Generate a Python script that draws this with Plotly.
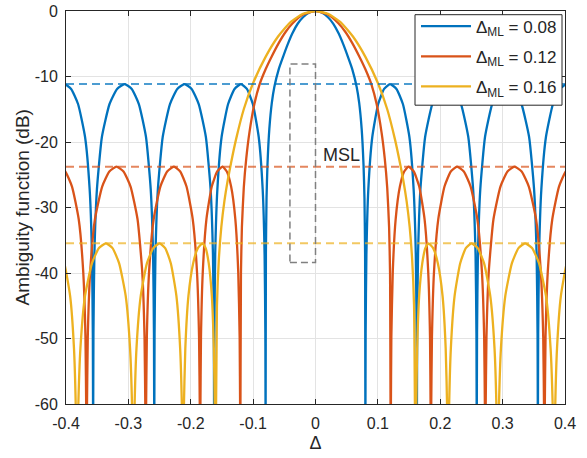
import plotly.graph_objects as go

# ---- data (positive half of each symmetric pattern) ----
blue_x = [0, 0.01, 0.02, 0.0286, 0.037, 0.0446, 0.052, 0.059, 0.066, 0.070, 0.074, 0.077, 0.0785, 0.0795, 0.080,
          0.0804, 0.0816, 0.0847, 0.0911, 0.1005, 0.110, 0.1195, 0.1298, 0.1401, 0.1505, 0.1573, 0.1608, 0.1621, 0.1625,
          0.1630, 0.1644, 0.1682, 0.1758, 0.1872, 0.1986, 0.210, 0.2216, 0.2333, 0.2449, 0.2527, 0.2566, 0.2580, 0.2585,
          0.2590, 0.2604, 0.2642, 0.2718, 0.2832, 0.2946, 0.306, 0.3181, 0.3302, 0.3424, 0.3504, 0.3545, 0.3560, 0.3565,
          0.3570, 0.3584, 0.3621, 0.3695, 0.3807, 0.3918, 0.403, 0.42]
blue_y = [0, -0.24, -0.95, -1.95, -3.4, -5.1, -7.0, -8.9, -11.6, -14.0, -18.0, -23.5, -28.5, -37, -65,
          -49.2, -37.2, -27.2, -19.2, -14.2, -11.9, -11.15, -11.9, -14.2, -19.2, -27.2, -37.2, -49.2, -65,
          -49.2, -37.2, -27.2, -19.2, -14.2, -11.9, -11.15, -11.9, -14.2, -19.2, -27.2, -37.2, -49.2, -65,
          -49.2, -37.2, -27.2, -19.2, -14.2, -11.9, -11.15, -11.9, -14.2, -19.2, -27.2, -37.2, -49.2, -65,
          -49.2, -37.2, -27.2, -19.2, -14.2, -11.9, -11.15, -12.5]

red_x = [0, 0.02, 0.0366, 0.048, 0.059, 0.07, 0.08, 0.09, 0.098, 0.106, 0.111, 0.115, 0.118, 0.1195, 0.1205,
         0.1208, 0.1216, 0.1239, 0.1285, 0.1353, 0.1422, 0.149, 0.1576, 0.1663, 0.1749, 0.1807, 0.1836, 0.1846, 0.185,
         0.1854, 0.1867, 0.1900, 0.1968, 0.2068, 0.2169, 0.227, 0.2378, 0.2487, 0.2595, 0.2668, 0.2704, 0.2717, 0.2722,
         0.2727, 0.2741, 0.2778, 0.2853, 0.2965, 0.3078, 0.319, 0.3305, 0.3420, 0.3536, 0.3612, 0.3651, 0.3665, 0.367,
         0.3675, 0.3688, 0.3724, 0.3796, 0.3904, 0.4012, 0.412, 0.425]
red_y = [0, -0.55, -1.88, -3.2, -4.9, -6.9, -8.9, -11.3, -14.2, -18.6, -22.5, -27, -33, -40, -65,
         -61.8, -49.8, -39.8, -31.8, -26.8, -24.5, -23.77, -24.5, -26.8, -31.8, -39.8, -49.8, -61.8, -65,
         -61.8, -49.8, -39.8, -31.8, -26.8, -24.5, -23.77, -24.5, -26.8, -31.8, -39.8, -49.8, -61.8, -65,
         -61.8, -49.8, -39.8, -31.8, -26.8, -24.5, -23.77, -24.5, -26.8, -31.8, -39.8, -49.8, -61.8, -65,
         -61.8, -49.8, -39.8, -31.8, -26.8, -24.5, -23.77, -24.5]

yel_x = [0, 0.02, 0.04, 0.06, 0.08, 0.10, 0.115, 0.1274, 0.1354, 0.141, 0.146, 0.151, 0.155, 0.158, 0.1605,
         0.1613, 0.1630, 0.1662, 0.1712, 0.1761, 0.181, 0.1886, 0.1961, 0.2037, 0.2087, 0.2112, 0.2125,
         0.2140, 0.2170, 0.2230, 0.2320, 0.2410, 0.250, 0.2601, 0.2702, 0.2802, 0.2870, 0.2903, 0.292,
         0.2938, 0.2973, 0.3043, 0.3149, 0.3254, 0.336, 0.3472, 0.3583, 0.3695, 0.3769, 0.3806, 0.3825,
         0.3841, 0.3872, 0.3934, 0.4028, 0.4121, 0.4215]
yel_y = [0, -0.42, -1.7, -3.9, -7.0, -11.0, -15.0, -19.6, -23.2, -26.0, -29.0, -33.0, -38, -45, -75,
         -61.5, -51.5, -43.5, -38.5, -36.2, -35.47, -36.2, -38.5, -43.5, -51.5, -61.5, -75,
         -61.5, -51.5, -43.5, -38.5, -36.2, -35.47, -36.2, -38.5, -43.5, -51.5, -61.5, -75,
         -61.5, -51.5, -43.5, -38.5, -36.2, -35.47, -36.2, -38.5, -43.5, -51.5, -61.5, -75,
         -61.5, -51.5, -43.5, -38.5, -36.2, -35.47]

series_names = ["Δ<sub>ML</sub> = 0.08", "Δ<sub>ML</sub> = 0.12", "Δ<sub>ML</sub> = 0.16"]
msl_levels = [-11.15, -23.77, -35.47]
msl_box_x = [-0.041, 0.0]
msl_box_y = [-38.4, -8.1]
msl_label = "MSL"
msl_label_pos = [0.0095, -22.0]

x_ticks = [-0.4, -0.3, -0.2, -0.1, 0, 0.1, 0.2, 0.3, 0.4]
x_tick_text = ["-0.4", "-0.3", "-0.2", "-0.1", "0", "0.1", "0.2", "0.3", "0.4"]
y_ticks = [0, -10, -20, -30, -40, -50, -60]
y_tick_text = ["0", "-10", "-20", "-30", "-40", "-50", "-60"]
y_title = "Ambiguity function (dB)"
x_title = "Δ"

colors = ["#0072BD", "#D95319", "#EDB120"]
msl_colors = ["rgba(0,114,189,0.7)", "rgba(217,83,25,0.7)", "rgba(237,177,32,0.7)"]


def mirror(xs, ys):
    # the ambiguity function is symmetric in Δ
    fx = [-v for v in reversed(xs[1:])] + list(xs)
    fy = list(reversed(ys[1:])) + list(ys)
    return fx, fy


FONT = "Liberation Sans, Arial, Helvetica, sans-serif"
TXT = "#262626"
fig = go.Figure()

for i, ((xs, ys), name, col) in enumerate(zip([(blue_x, blue_y), (red_x, red_y), (yel_x, yel_y)],
                                               series_names, colors)):
    fx, fy = mirror(xs, ys)
    fig.add_trace(go.Scatter(x=fx, y=fy, mode="lines", name=name, legendgroup=f"g{i}",
                             line=dict(color=col, width=2.3, shape="spline", smoothing=0.5)))

for lvl, col in zip(msl_levels, msl_colors):
    fig.add_trace(go.Scatter(x=[x_ticks[0], x_ticks[-1]], y=[lvl, lvl], mode="lines", showlegend=False,
                             line=dict(color=col, width=2, dash="8px,5px"), hoverinfo="skip"))

fig.add_shape(type="rect", xref="x", yref="y", x0=msl_box_x[0], x1=msl_box_x[1],
              y0=msl_box_y[0], y1=msl_box_y[1],
              line=dict(color="#808080", width=1.5, dash="7px,4px"))
fig.add_annotation(x=msl_label_pos[0], y=msl_label_pos[1], text=msl_label, showarrow=False,
                   xanchor="left", yanchor="middle", font=dict(size=18, color=TXT, family=FONT))

# legend frame (white box behind the legend entries)
fig.add_shape(type="rect", xref="paper", yref="paper", x0=0.6994, x1=0.994, y0=0.7603, y1=0.9906,
              layer="above", fillcolor="white", line=dict(color=TXT, width=1))

# y-axis title
fig.add_annotation(xref="paper", yref="paper", x=-0.0862, y=0.5, text=y_title, textangle=-90,
                   showarrow=False, xanchor="center", yanchor="middle",
                   font=dict(size=19, color=TXT, family=FONT))

axis_common = dict(showgrid=True, gridcolor="#e3e3e3", gridwidth=1, zeroline=False,
                   showline=True, linecolor=TXT, linewidth=1, mirror="ticks",
                   ticks="inside", ticklen=5, tickcolor=TXT, automargin=False,
                   tickfont=dict(size=16, color=TXT, family=FONT))

fig.update_xaxes(range=[-0.4, 0.4], tickvals=x_ticks, ticktext=x_tick_text, ticklabelstandoff=5,
                 title=dict(text=x_title, font=dict(size=18, color=TXT, family=FONT), standoff=5),
                 **axis_common)
fig.update_yaxes(range=[-60, 0], tickvals=y_ticks, ticktext=y_tick_text, ticklabelstandoff=4,
                 **axis_common)

fig.update_layout(
    width=587, height=458,
    margin=dict(l=66, r=22, t=9, b=54),
    paper_bgcolor="white", plot_bgcolor="white",
    font=dict(family=FONT, color=TXT),
    legend=dict(x=0.994, y=1.006, xanchor="right", yanchor="top",
                bgcolor="rgba(0,0,0,0)", borderwidth=0,
                font=dict(size=17, color=TXT, family=FONT),
                tracegroupgap=5, itemwidth=50),
    showlegend=True,
)

fig.write_html("out.html")
